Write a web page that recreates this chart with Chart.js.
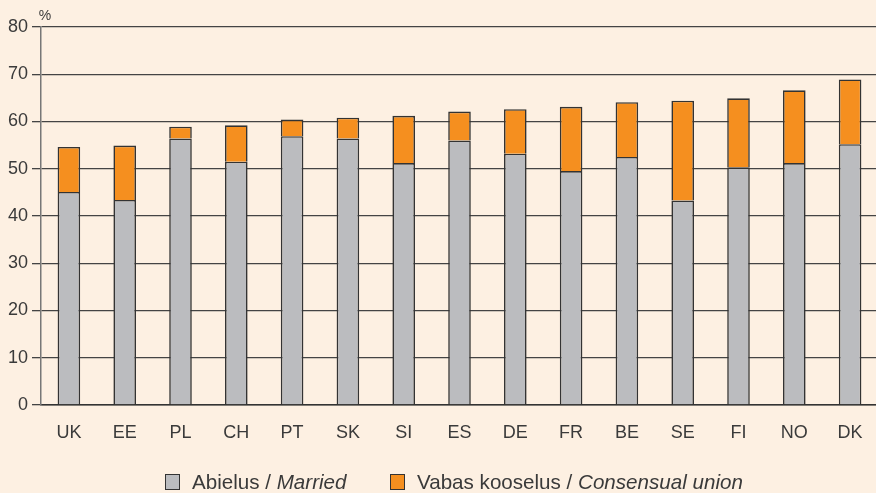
<!DOCTYPE html>
<html><head><meta charset="utf-8">
<script src="https://cdn.jsdelivr.net/npm/chart.js@4/dist/chart.umd.min.js"></script>
<style>
html,body{margin:0;padding:0;background:#FDF0E2;overflow:hidden;}
#wrap{position:relative;width:876px;height:493px;overflow:hidden;}
#legend{position:absolute;left:0;top:470px;width:876px;font-family:"Liberation Sans",Arial,sans-serif;font-size:20.6px;color:#3a3a3a;white-space:nowrap;}
.item{position:absolute;top:0;line-height:24px;}
.box{display:inline-block;width:13px;height:14px;border:1.5px solid #333;vertical-align:-1px;margin-right:12px;}
</style></head>
<body><div id="wrap"><canvas id="c" width="878" height="493"></canvas>
<div id="legend">
<span class="item" style="left:165px"><span class="box" style="background:#BBBCBF"></span>Abielus / <i>Married</i></span>
<span class="item" style="left:390px"><span class="box" style="background:#F58F1F"></span>Vabas kooselus / <i>Consensual union</i></span>
</div></div>
<script>
const categories = ["UK","EE","PL","CH","PT","SK","SI","ES","DE","FR","BE","SE","FI","NO","DK"];
const married =    [45.1,43.4,56.4,51.5,56.9,56.4,51.2,56.0,53.2,49.5,52.5,43.3,50.3,51.2,55.2];
const consensual = [9.5,11.5,2.5,7.7,3.5,4.4,10.0,6.1,9.4,13.6,11.6,21.1,14.6,15.4,13.7];
const yTicks = [0,10,20,30,40,50,60,70,80];

const FONT = "'Liberation Sans', Arial, sans-serif";
const unitPlugin = {
  id:'unit',
  afterDraw(chart){
    const ctx = chart.ctx, y = chart.scales.y;
    ctx.save();
    ctx.font = "14px " + FONT;
    ctx.fillStyle = "#3a3a3a";
    ctx.textAlign = "center";
    ctx.textBaseline = "middle";
    ctx.fillText("%", y.right + 4, y.getPixelForValue(80) - 11);
    ctx.restore();
  }
};

new Chart(document.getElementById('c'), {
  type:'bar',
  data:{
    labels:categories,
    datasets:[
      {label:"Abielus / Married", data:married, backgroundColor:"#BBBCBF", borderColor:"#333", borderWidth:1.6, barPercentage:0.405, categoryPercentage:1},
      {label:"Vabas kooselus / Consensual union", data:consensual, backgroundColor:"#F58F1F", borderColor:"#333", borderWidth:1.6, barPercentage:0.405, categoryPercentage:1}
    ]
  },
  options:{
    responsive:false,
    animation:false,
    layout:{padding:{top:27,right:0,left:0,bottom:0}},
    plugins:{legend:{display:false},tooltip:{enabled:false}},
    scales:{
      x:{
        stacked:true,
        grid:{display:false},
        border:{display:true,color:"#333",width:1.5},
        ticks:{color:"#3a3a3a",font:{family:FONT,size:18},padding:9},
        afterFit(s){s.height = 88;}
      },
      y:{
        stacked:true,
        min:0,max:80,
        afterBuildTicks(s){s.ticks = yTicks.map(v=>({value:v}));},
        grid:{color:"#444",lineWidth:1.3,tickLength:9,drawTicks:true},
        border:{display:true,color:"#777",width:1.5},
        ticks:{color:"#3a3a3a",font:{family:FONT,size:18},padding:4},
        afterFit(s){s.width = 41;}
      }
    }
  },
  plugins:[unitPlugin]
});
</script></body></html>
